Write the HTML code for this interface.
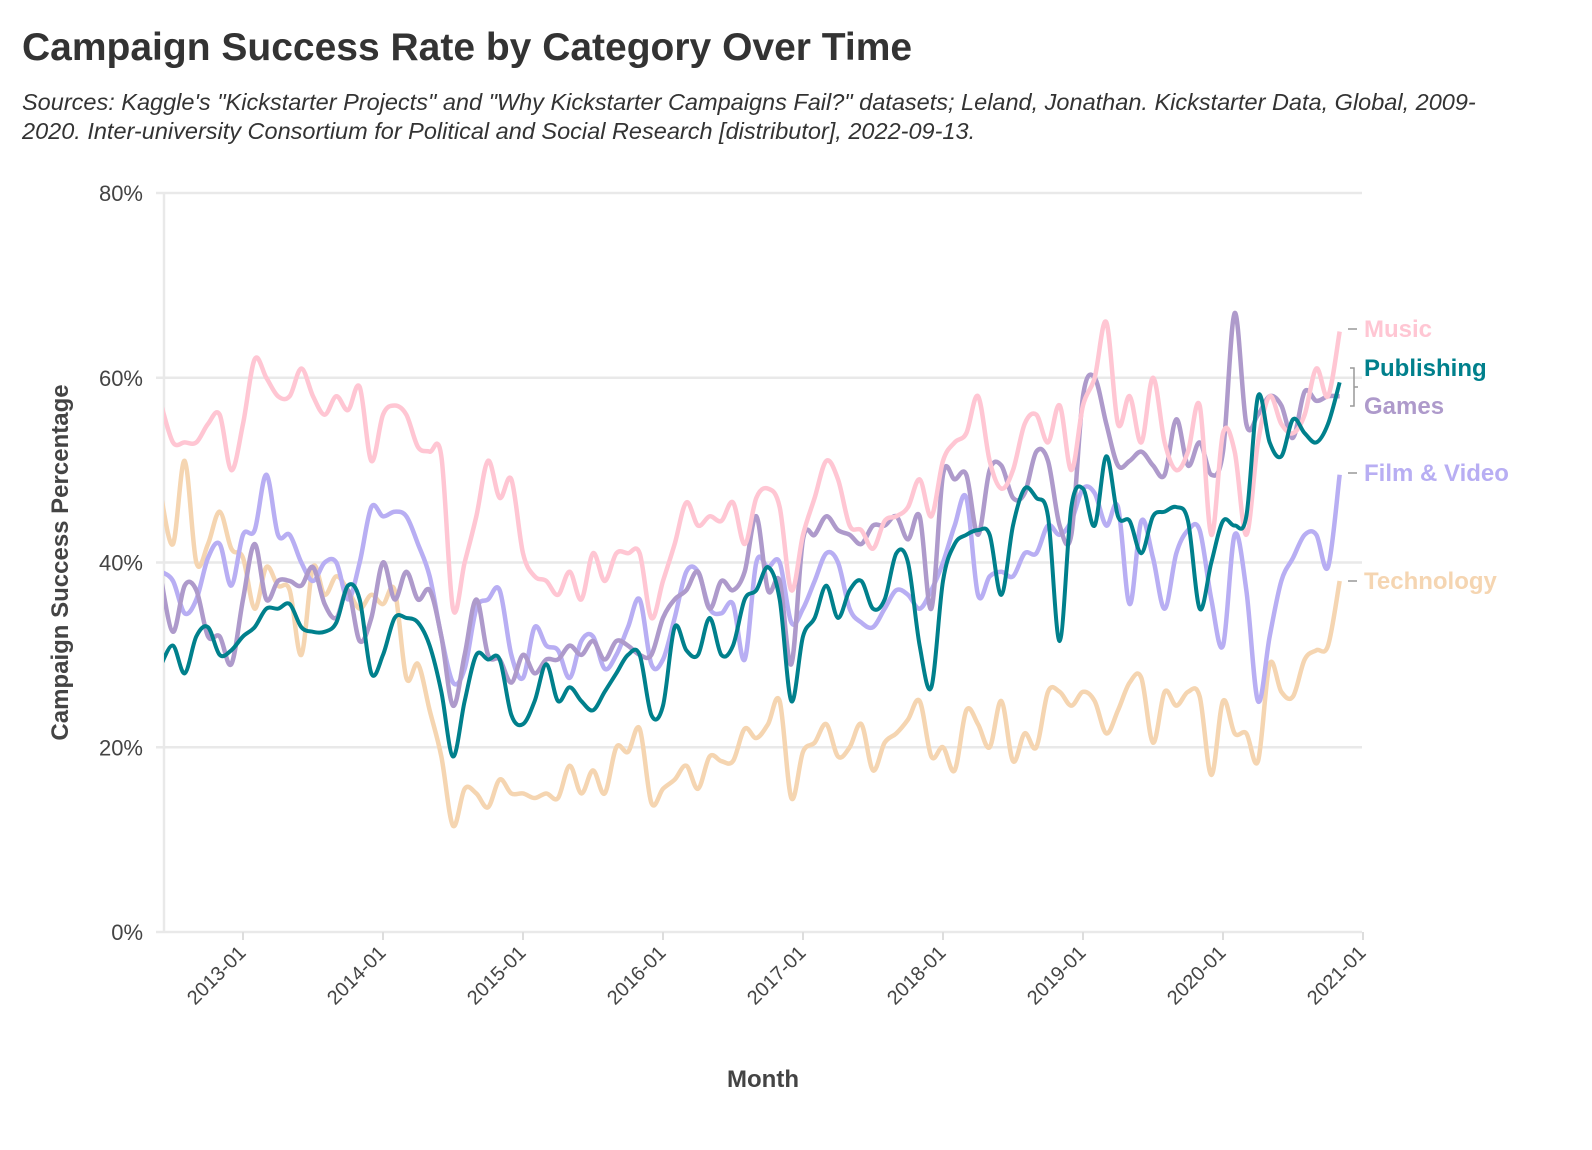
<!DOCTYPE html>
<html><head><meta charset="utf-8">
<style>
body{margin:0;background:#fff;font-family:"Liberation Sans",sans-serif;}
#wrap{position:relative;width:1592px;height:1150px;overflow:hidden}
h1{position:absolute;left:22px;top:26px;margin:0;font-size:39px;font-weight:bold;color:#333}
.sub{position:absolute;left:22px;top:88px;font-size:23.5px;font-style:italic;color:#333;line-height:29px;width:1570px;white-space:nowrap}
</style></head><body>
<div id="wrap">
<h1>Campaign Success Rate by Category Over Time</h1>
<div class="sub">Sources: Kaggle's "Kickstarter Projects" and "Why Kickstarter Campaigns Fail?" datasets; Leland, Jonathan. Kickstarter Data, Global, 2009-<br>2020. Inter-university Consortium for Political and Social Research [distributor], 2022-09-13.</div>
<svg id="chart" width="1592" height="1150" style="position:absolute;left:0;top:0"></svg>
</div>
<script>
const startYear=2012,startMonth=6;
const music=[57,53,53,53,55,56,50,55,62,60,58,58,61,58,56,58,56.5,59,51,56,57,56,52.5,52,51.5,35,40,45,51,47,49,41,38.5,38,36.5,39,36,41,38,41,41,41,34,38,42,46.5,44,45,44.5,46.5,42,47,48,46,37,43,47,51,49,44,43.5,41.5,44.5,45,46,49,45,51,53,54,58,51,48,50,55,56,53,57,50,57,60,66,55,58,53,60,53,50,52,57,43,54,52,43,53,58,55,54,56,61,58,65];
const publishing=[29,31,28,32,33,30,30.5,32,33,35,35,35.5,33,32.5,32.5,33.5,37.5,36,28,30,34,34,33.5,31,26,19,25,30,29.5,29.5,23.5,22.5,25,29,25,26.5,25,24,26,28,30,30,23.5,24.5,33,30.5,30,34,30,31,36,37,39.5,36,25,32,34,37.5,34,37,38,35,36,41,40,31,26.5,38,42,43,43.5,43,36.5,44,48,47,45,31.5,46,48,44,51.5,45,44.5,41,45,45.5,46,44.5,35,40,44.5,44,45,58,53,51.5,55.5,54,53,55,59.5];
const games=[38,32.5,37.5,37,32,32,29,36,42,36,38,38,37.5,39.5,35.5,34,37,31.5,34,40,36,39,36,37,32,24.5,30,36,30,29.5,27,30,28,29.5,29.5,31,30,31.5,29.5,31.5,31,30,30,34,36,37,39,35,38,37,39,45,37,38,29,42.5,43,45,43.5,43,42,44,44,45,42.5,45,35,49.5,49,49.5,43,50,50.5,47,47.5,52,51,44,43,58,60,55,50.5,51,52,50.5,49.5,55.5,50.5,53,49.5,52,67,55,56,58,57,53.5,58.5,57.5,58,58];
const film=[39,38,34.5,36,40.5,42,37.5,43,43.5,49.5,43,43,40,38,40,40,36,40,46,45,45.5,45,42,38.5,32,27,28.5,35,36,37,30,27.5,33,31,30.5,27.5,31.5,32,28.5,30,33,36,29,29.5,34,39,39,35,34.5,35.5,29.5,40,39.5,40,33.5,35,38,41,40,35,33.5,33,35,37,36.5,35,37,40,44,47,36.5,38.5,39,38.5,41,41,44,43,44.5,48,47.5,44,46,35.5,44.5,40.5,35,41,43.5,43.5,36,31,43,37,25,32,38,40.5,43,43,39.5,49.5];
const tech=[47,42,51,40,42,45.5,41.5,40.5,35,39.5,37.5,37,30,39.5,36.5,38.5,37,35,36.5,35.5,37,27.5,29,24,19,11.5,15.5,15,13.5,16.5,15,15,14.5,15,14.5,18,15,17.5,15,20,19.5,22,14,15.5,16.5,18,15.5,19,18.5,18.5,22,21,22.5,25,14.5,19.5,20.5,22.5,19,20,22.5,17.5,20.5,21.5,23,25,19,20,17.5,24,22.5,20,25,18.5,21.5,20,26,26,24.5,26,25,21.5,24,27,27.5,20.5,26,24.5,26,25.5,17,25,21.5,21.5,18.5,29,26,25.5,29.5,30.5,31,38];
const yTicks=[0,20,40,60,80];
const xTickYears=[2013,2014,2015,2016,2017,2018,2019,2020,2021];
const seriesNames=["Technology","Film & Video","Games","Music","Publishing"];
const seriesData=[tech,film,games,music,publishing];
const colors={"Music":"#ffc6d3","Publishing":"#00808c","Games":"#ae9acb","Film & Video":"#b8aef3","Technology":"#f5d5b1"};
const labelY={"Music":329,"Publishing":368,"Games":406,"Film & Video":473,"Technology":581};

const L=164,R=1362,T=193,B=932;
const svg=document.getElementById('chart');
const NS="http://www.w3.org/2000/svg";
function x(monthIdx){return 243+monthIdx*140/12;}
function xi(i){return x(i+(startYear-2013)*12+(startMonth-1));}
function y(v){return B-(v/80)*(B-T);}
function mk(tag,attrs,parent){const e=document.createElementNS(NS,tag);for(const k in attrs)e.setAttribute(k,attrs[k]);(parent||svg).appendChild(e);return e;}

const defs=mk('defs',{});
const cp=mk('clipPath',{id:'clip'},defs);
mk('rect',{x:L,y:0,width:R-L,height:1150},cp);

yTicks.forEach(t=>{
  const g=mk('line',{x1:L-8,x2:R,y1:y(t),y2:y(t),stroke:'#e9e9e9','stroke-width':2.5});
  
  
  const tx=mk('text',{x:143,y:y(t)+8,'text-anchor':'end','font-size':22,fill:'#444'});
  tx.textContent=t+'%';
  
  
});
const ax=mk('line',{x1:L,x2:L,y1:T,y2:B,stroke:'#e9e9e9','stroke-width':2.5});


xTickYears.forEach(yr=>{
  const xx=x((yr-2013)*12);
  const tk=mk('line',{x1:xx,x2:xx,y1:B,y2:B+8,stroke:'#ddd','stroke-width':2});
  
  
  const tx=mk('text',{x:xx+4,y:B+22,'text-anchor':'end','font-size':20,fill:'#444',transform:`rotate(-45 ${xx+4} ${B+22})`});
  tx.textContent=yr+'-01';
  
  
});
const yt=mk('text',{x:68,y:(T+B)/2,'text-anchor':'middle','font-size':24,'font-weight':'bold',fill:'#444',transform:`rotate(-90 68 ${(T+B)/2})`});
yt.textContent='Campaign Success Percentage';


const xt=mk('text',{x:763,y:1087,'text-anchor':'middle','font-size':24,'font-weight':'bold',fill:'#444'});
xt.textContent='Month';



function pathFor(arr){
  const p=arr.map((v,i)=>[xi(i),y(v)]);
  let d=`M${p[0][0]},${p[0][1]}`;
  for(let i=0;i<p.length-1;i++){
    const p0=p[Math.max(0,i-1)],p1=p[i],p2=p[i+1],p3=p[Math.min(p.length-1,i+2)];
    const t=0.5/3;
    d+=` C${p1[0]+(p2[0]-p0[0])*t},${p1[1]+(p2[1]-p0[1])*t} ${p2[0]-(p3[0]-p1[0])*t},${p2[1]-(p3[1]-p1[1])*t} ${p2[0]},${p2[1]}`;
  }
  return d;
}
seriesNames.forEach((n,k)=>{
  const pth=mk('path',{d:pathFor(seriesData[k]),fill:'none',stroke:colors[n],'stroke-width':n==='Publishing'?4:4.5,'stroke-linejoin':'round','clip-path':'url(#clip)'});
  
  
});
["Music","Publishing","Games","Film & Video","Technology"].forEach(n=>{
  const ly=labelY[n];
  if(n!=='Publishing'&&n!=='Games'){
    const ln=mk('line',{x1:1348,x2:1357,y1:ly,y2:ly,stroke:'#999','stroke-width':1.5});
    
    
  }
  const tx=mk('text',{x:1364,y:ly+8,'font-size':24,'font-weight':'bold',fill:colors[n]});
  tx.textContent=n;
  
  
});
const br=mk('path',{d:'M1350,368 L1354,368 L1354,406 L1350,406 M1354,387 L1358,387',fill:'none',stroke:'#999','stroke-width':1.5});


</script>
</body></html>
